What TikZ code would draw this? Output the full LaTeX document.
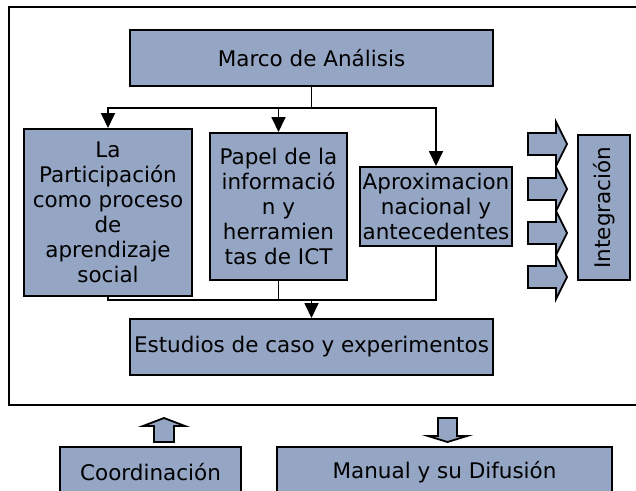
\documentclass[tikz,border=0pt]{standalone}
\usepackage{fontspec}
\setmainfont{DejaVu Sans}
\usetikzlibrary{arrows.meta,positioning}
\definecolor{cajaazul}{RGB}{149,165,196}
\tikzset{
  caja/.style={draw=black, fill=cajaazul, line width=2pt, inner sep=0pt,
    align=center, font=\fontsize{21.5}{25}\selectfont},
  linea/.style={line width=1.8pt},
  flecha/.style={line width=1.8pt, -{Triangle[width=14pt,length=15pt]}},
  bloque/.style={draw=black, fill=cajaazul, line width=1.8pt, line join=miter},
}

\begin{document}
\begin{tikzpicture}[x=1pt,y=-1pt]
    \useasboundingbox (0,0) rectangle (636,490);
    \clip (0,0) rectangle (636,490);

    % 外枠
    \draw[line width=2pt] (636,7) -- (9,7) -- (9,405) -- (636,405);

    % 箱を描画
    \node[caja, minimum width=363, minimum height=56] (marco) at (311.5,58) {Marco de Análisis};
    \node[caja, minimum width=168, minimum height=167] (particip) at (108,212.5)
        {La\\Participación\\como proceso\\de\\aprendizaje\\social};
    \node[caja, minimum width=137, minimum height=147] (papel) at (278.5,206.5)
        {Papel de la\\informació\\n y\\herramien\\tas de ICT};
    \node[caja, minimum width=152, minimum height=79] (aprox) at (436,206.5)
        {Aproximacion\\nacional y\\antecedentes};
    \node[caja, minimum width=363, minimum height=56] (estudios) at (311.5,347) {Estudios de caso y experimentos};
    \node[caja, rotate=90, minimum width=145, minimum height=52] (integ) at (604,207.5) {Integración};
    \node[caja, minimum width=181, minimum height=50] (coord) at (150.5,472) {Coordinación};
    \node[caja, minimum width=335, minimum height=50] (manual) at (444.5,472) {Manual y su Difusión};

    % 上の分岐
    \coordinate (jtop) at (marco.south |- 0,108);
    \draw[linea] (marco.south) -- (jtop);
    \draw[flecha] (jtop) -| (particip.north);
    \draw[flecha] (jtop) -| (papel.north);
    \draw[flecha] (jtop) -| (aprox.north);

    % 下の合流
    \coordinate (jbot) at (estudios.north |- 0,300);
    \draw[linea] (particip.south) |- (jbot);
    \draw[linea] (aprox.south) |- (jbot);
    \draw[linea] (papel.south) -- (papel.south |- jbot);
    \draw[flecha] (jbot) -- (estudios.north);

    % 統合への矢印
    \foreach \y in {144,189,233,277} {
        \draw[bloque] (528,\y-11) -- (556,\y-11) -- (556,\y-22) -- (567,\y)
            -- (556,\y+22) -- (556,\y+11) -- (528,\y+11) -- cycle;
    }

    % 上下の矢印
    \draw[bloque] (154,442) -- (154,426) -- (143,426) -- (164,418)
        -- (185,426) -- (174,426) -- (174,442) -- cycle;
    \draw[bloque] (438,418) -- (457,418) -- (457,436) -- (467,436)
        -- (447.5,442) -- (428,436) -- (438,436) -- cycle;
\end{tikzpicture}
\end{document}
